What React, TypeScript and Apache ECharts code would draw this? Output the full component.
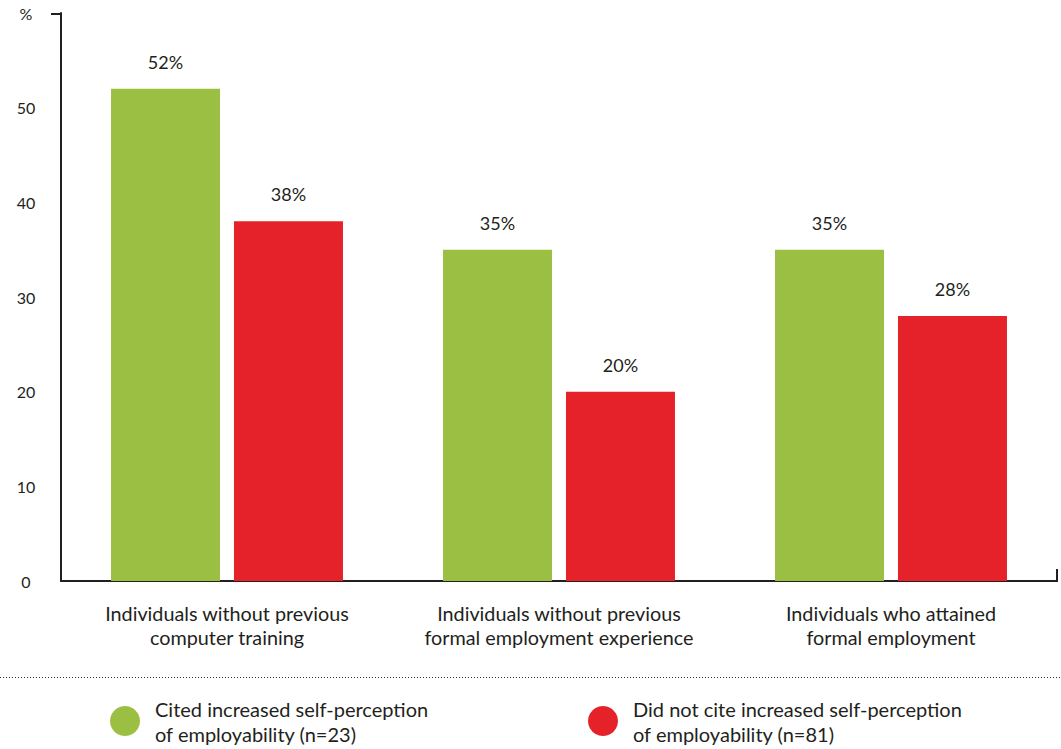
import React, { useEffect, useRef } from "react";
import * as echarts from "echarts";

const categories = [
  "Individuals without previous\ncomputer training",
  "Individuals without previous\nformal employment experience",
  "Individuals who attained\nformal employment",
];
const seriesNames = [
  "Cited increased self-perception\nof employability (n=23)",
  "Did not cite increased self-perception\nof employability (n=81)",
];
const citedValues = [52, 35, 35];
const notCitedValues = [38, 20, 28];
const yTicks = [0, 10, 20, 30, 40, 50, 60];

const GREEN = "#9abf42";
const RED = "#e5222a";
const INK = "#231f20";
const FONT = "Lato, 'Open Sans', sans-serif";

export default function App() {
  const ref = useRef<HTMLDivElement>(null);
  useEffect(() => {
    if (!ref.current) return;
    const chart = echarts.init(ref.current, null, { renderer: "svg" });
    const labelCfg = {
      show: true,
      position: "top",
      distance: 18,
      formatter: "{c}%",
      fontSize: 18,
      color: INK,
      fontFamily: FONT,
    };
    const legendText = {
      fontSize: 20,
      lineHeight: 25,
      color: INK,
      fontFamily: FONT,
      padding: [0, 0, 0, 10],
    };
    chart.setOption({
      animation: false,
      backgroundColor: "#ffffff",
      textStyle: { fontFamily: FONT },
      grid: { left: 61, right: 4, top: 13, bottom: 168, containLabel: false },
      legend: [
        {
          data: [seriesNames[0]],
          left: 110,
          top: 696,
          padding: 0,
          icon: "circle",
          itemWidth: 30,
          itemHeight: 30,
          selectedMode: false,
          textStyle: legendText,
        },
        {
          data: [seriesNames[1]],
          left: 588,
          top: 696,
          padding: 0,
          icon: "circle",
          itemWidth: 30,
          itemHeight: 30,
          selectedMode: false,
          textStyle: legendText,
        },
      ],
      xAxis: {
        type: "category",
        data: categories,
        axisLine: { show: true, lineStyle: { color: INK, width: 2 } },
        axisTick: { show: false },
        axisLabel: {
          interval: 0,
          margin: 20,
          fontSize: 19.8,
          lineHeight: 24,
          color: INK,
          fontFamily: FONT,
        },
      },
      yAxis: {
        type: "value",
        min: 0,
        max: 60,
        interval: 10,
        splitLine: { show: false },
        axisLine: { show: true, lineStyle: { color: INK, width: 2 } },
        axisTick: { show: false },
        axisLabel: {
          margin: 35,
          align: "center",
          fontSize: 16,
          color: INK,
          fontFamily: FONT,
          formatter: (v: number) => (v === yTicks[yTicks.length - 1] ? "%" : String(v)),
        },
      },
      series: [
        {
          name: seriesNames[0],
          type: "bar",
          data: citedValues,
          barWidth: 109,
          barGap: "12.8%",
          itemStyle: { color: GREEN },
          label: labelCfg,
        },
        {
          name: seriesNames[1],
          type: "bar",
          data: notCitedValues,
          barWidth: 109,
          barGap: "12.8%",
          itemStyle: { color: RED },
          label: labelCfg,
        },
      ],
      graphic: [
        {
          type: "line",
          shape: { x1: 51, y1: 14, x2: 62, y2: 14 },
          style: { stroke: INK, lineWidth: 2 },
        },
        {
          type: "line",
          shape: { x1: 1057, y1: 569, x2: 1057, y2: 582 },
          style: { stroke: INK, lineWidth: 2 },
        },
        {
          type: "line",
          shape: { x1: 0, y1: 677.5, x2: 1061, y2: 677.5 },
          style: { stroke: "#333", lineWidth: 1.2, lineDash: [1, 2] },
        },
      ],
    });
    return () => chart.dispose();
  }, []);
  return (
    <div
      ref={ref}
      style={{ position: "absolute", left: 0, top: 0, width: 1061, height: 749 }}
    />
  );
}
